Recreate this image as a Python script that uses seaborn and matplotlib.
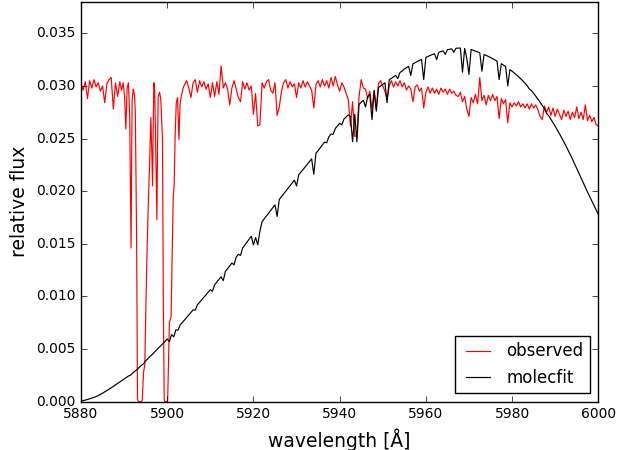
import numpy as np
import pandas as pd
import matplotlib
matplotlib.use('Agg')
import matplotlib.pyplot as plt
import seaborn as sns
from matplotlib.ticker import FormatStrFormatter

# flux values below are in units of 1e-3
step = 0.5

# observed spectrum, blue part on a 0.5 A grid
obs_blue_start = 5880.0
obs_blue = [30.2, 29.6, 30.4, 28.8, 30.5, 29.8, 30.6, 29.9, 30.3, 29.5,
            30.0, 28.4, 30.2, 30.6, 30.8, 27.8, 30.3, 29.0, 30.4]

# observed spectrum around the Na D lines, read point by point
obs_na_wave = [5889.4, 5889.8, 5890.1, 5890.4, 5890.7, 5891.0, 5891.3, 5891.6, 5891.85, 5892.1,
               5892.4, 5892.6, 5892.9, 5893.1, 5893.3, 5893.6, 5893.9, 5894.2, 5894.5, 5894.8,
               5895.0, 5895.3, 5895.6, 5895.9, 5896.2, 5896.4, 5896.6, 5896.75, 5896.9, 5897.1,
               5897.3, 5897.6, 5897.75, 5897.9, 5898.2, 5898.5, 5898.9, 5899.1, 5899.3, 5899.5,
               5899.8, 5900.1, 5900.5, 5900.9, 5901.1, 5901.4, 5901.6, 5901.85, 5902.1, 5902.4,
               5902.7, 5903.0, 5903.3, 5903.7, 5904.0]
obs_na_flux = [29.6, 30.3, 29.0, 25.9, 29.8, 30.3, 27.0, 14.6, 28.5, 29.7,
               29.2, 27.5, 15.4, 0.3, 0.0, 0.0, 0.0, 0.1, 2.8, 3.5,
               8.0, 14.0, 18.6, 22.5, 27.0, 24.0, 20.5, 26.0, 30.3, 29.5,
               25.0, 17.3, 24.0, 28.9, 29.4, 28.8, 24.9, 9.1, 0.2, 0.0,
               0.0, 0.1, 7.5, 8.1, 13.0, 19.5, 20.5, 25.5, 28.4, 28.9,
               24.9, 28.4, 29.1, 29.8, 30.1]

# observed spectrum, red part on a 0.5 A grid
obs_red_start = 5904.5
obs_red = [30.5, 29.8, 28.9, 30.3, 30.6, 29.4, 30.5, 29.9, 30.4, 29.7, 30.2, 28.9, 30.3, 29.0, 30.4, 29.2, 31.9, 29.8, 30.3, 29.7,
           28.2, 29.8, 30.5, 29.7, 28.9, 28.5, 30.4, 29.7, 30.3, 29.6, 30.0, 27.3, 29.3, 26.2, 26.3, 30.3, 29.8, 30.4, 30.6, 29.6,
           29.3, 30.3, 27.2, 28.0, 29.5, 30.3, 30.6, 29.8, 30.4, 29.9, 30.2, 28.9, 30.3, 29.8, 30.5, 29.9, 30.4, 30.0, 29.6, 27.9,
           30.1, 30.5, 29.9, 30.6, 30.0, 30.5, 29.8, 30.8, 30.0, 30.9, 30.1, 29.5, 30.3, 29.9, 29.3, 28.7, 26.2, 28.5, 25.2, 25.3,
           29.0, 30.6, 29.8, 29.7, 28.8, 29.5, 27.8, 29.6, 27.8, 30.2, 30.5, 30.0, 29.5, 28.7, 30.0, 30.5, 29.9, 30.4, 30.0, 30.5,
           29.9, 30.3, 29.6, 30.0, 29.7, 28.5, 29.9, 30.1, 29.5, 29.8, 27.9, 29.4, 29.9, 29.3, 29.8, 29.3, 29.7, 29.2, 29.8, 29.4,
           29.7, 29.2, 29.7, 29.3, 29.5, 29.1, 29.0, 29.4, 28.5, 29.0, 27.8, 27.1, 28.9, 28.4, 29.2, 28.3, 30.8, 28.6, 29.1, 28.2,
           29.1, 28.6, 29.2, 28.6, 29.0, 26.9, 28.8, 28.3, 28.7, 26.5, 28.4, 28.0, 28.4, 28.1, 28.5, 28.0, 28.3, 27.9, 28.3, 27.8,
           28.3, 27.9, 28.2, 27.7, 27.1, 26.8, 28.1, 27.5, 28.0, 27.2, 27.9, 27.1, 27.8, 27.3, 26.8, 27.7, 27.1, 27.6, 26.8, 27.5,
           27.0, 28.0, 26.9, 27.5, 26.8, 28.2, 26.7, 27.2, 26.6, 27.0, 26.3, 26.2]

# molecfit model on a 0.5 A grid
fit_start = 5880.0
fit_flux = [0.05, 0.10, 0.15, 0.21, 0.27, 0.34, 0.41, 0.49, 0.58, 0.69, 0.81, 0.93, 1.06, 1.19, 1.32, 1.46, 1.60, 1.74, 1.88, 2.02,
            2.16, 2.30, 2.44, 2.52, 2.74, 2.90, 3.06, 3.26, 3.46, 3.60, 3.88, 4.08, 4.30, 4.48, 4.70, 4.90, 5.12, 5.32, 5.52, 5.74,
            5.96, 5.70, 6.38, 6.15, 6.82, 6.80, 7.30, 7.52, 7.76, 8.00, 8.24, 8.48, 8.72, 8.70, 9.20, 9.44, 9.68, 9.92, 10.16, 10.40,
            10.64, 10.50, 11.12, 11.36, 11.62, 11.86, 11.50, 12.38, 12.64, 12.90, 13.18, 13.00, 13.74, 14.00, 13.90, 14.60, 14.88, 15.16, 15.44, 15.72,
            14.90, 15.60, 14.90, 16.20, 17.10, 17.38, 17.64, 17.90, 18.18, 18.44, 18.70, 17.60, 19.22, 19.48, 19.74, 20.00, 20.26, 20.52, 20.78, 21.04,
            20.50, 21.56, 21.80, 22.06, 22.30, 22.56, 22.82, 23.08, 21.60, 23.60, 23.86, 24.12, 24.40, 24.66, 24.60, 25.18, 25.44, 25.40, 25.96, 26.20,
            26.45, 26.30, 26.85, 27.05, 27.25, 27.10, 24.70, 27.30, 24.70, 28.25, 28.45, 28.64, 28.00, 29.00, 29.18, 26.80, 29.52, 27.60, 29.84, 29.99,
            30.14, 30.29, 28.40, 30.58, 30.72, 30.86, 31.00, 30.70, 31.28, 31.42, 31.60, 31.73, 31.86, 31.00, 32.10, 32.21, 32.32, 32.42, 32.52, 30.60,
            32.72, 32.81, 32.90, 32.98, 33.06, 32.50, 33.20, 33.27, 33.33, 33.00, 33.44, 33.48, 33.52, 33.20, 33.58, 33.59, 33.60, 31.30, 33.56, 32.60,
            31.10, 33.47, 33.38, 33.31, 33.24, 33.16, 31.40, 32.99, 32.90, 32.80, 32.70, 32.59, 32.48, 32.36, 30.60, 32.11, 31.98, 31.84, 30.00, 31.55,
            31.40, 31.23, 31.06, 30.87, 30.68, 30.47, 30.26, 30.03, 29.70, 29.55, 29.30, 29.02, 28.74, 28.44, 28.14, 27.82, 27.40, 27.17, 26.84, 26.50,
            26.16, 25.81, 25.45, 25.08, 24.70, 24.30, 23.90, 23.48, 23.05, 22.60, 22.15, 21.70, 21.25, 20.80, 20.35, 19.92, 19.50, 19.07, 18.65, 18.22,
            17.80]

obs = pd.DataFrame({
    'wavelength': np.concatenate([obs_blue_start + step * np.arange(len(obs_blue)),
                                  obs_na_wave,
                                  obs_red_start + step * np.arange(len(obs_red))]),
    'flux': np.concatenate([obs_blue, obs_na_flux, obs_red]) * 1e-3,
})
fit = pd.DataFrame({
    'wavelength': fit_start + step * np.arange(len(fit_flux)),
    'flux': np.array(fit_flux) * 1e-3,
})

plt.style.use('classic')
fig, ax = plt.subplots(figsize=(6.28, 4.5), dpi=100)
fig.subplots_adjust(left=0.129, right=0.9527, bottom=0.1073, top=0.9962)

sns.lineplot(data=obs, x='wavelength', y='flux', color='r', lw=0.85,
             estimator=None, label='observed', ax=ax)
sns.lineplot(data=fit, x='wavelength', y='flux', color='k', lw=0.85,
             estimator=None, label='molecfit', ax=ax)

ax.set_xlim(5880, 6000)
ax.set_ylim(0, 0.038)
ax.set_xticks(np.arange(5880, 6001, 20))
ax.set_yticks(np.arange(0, 0.0351, 0.005))
ax.ticklabel_format(axis='x', useOffset=False)
ax.yaxis.set_major_formatter(FormatStrFormatter('%.3f'))
ax.tick_params(labelsize=10)
ax.set_xlabel('wavelength [Å]', fontsize=13.5)
ax.set_ylabel('relative flux', fontsize=13.5)
ax.legend(loc='lower right', fontsize=12, handlelength=2.0, handletextpad=0.7,
          fancybox=False)

fig.savefig('out.png', dpi=100, facecolor='white')
